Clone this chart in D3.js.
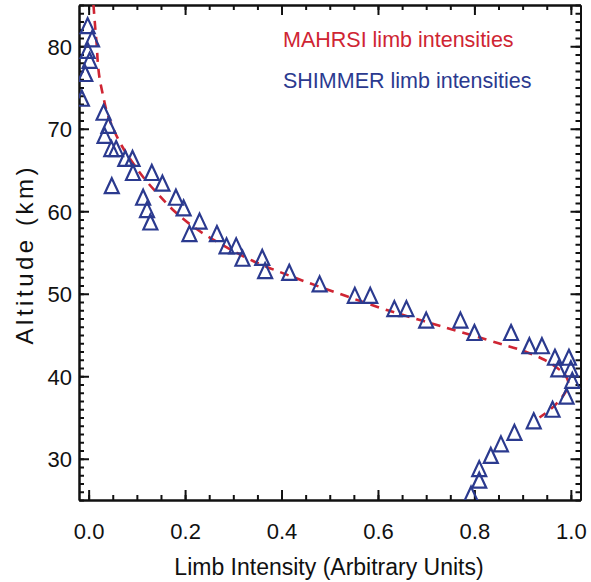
<!DOCTYPE html>
<html>
<head>
<meta charset="utf-8">
<script src="https://cdn.jsdelivr.net/npm/d3@7"></script>
<style>
  body { margin: 0; background: #fff; }
  .app text { font-family: "Liberation Sans", Arial, sans-serif; fill: #111; }
  .axis path, .axis line { stroke: #111; }
</style>
</head>
<body>
<div class="app"></div>
<script>
'use strict'

// SHIMMER limb intensities (triangles)
var shimmerIntensity = [
  -0.002, 0.007, -0.002, 0.002, -0.007, -0.014, 0.031, 0.041, 0.033, 0.047,
  0.057, 0.076, 0.091, 0.092, 0.048, 0.131, 0.153, 0.113, 0.121, 0.128,
  0.181, 0.197, 0.230, 0.209, 0.266, 0.286, 0.306, 0.319, 0.360, 0.366,
  0.416, 0.479, 0.552, 0.584, 0.634, 0.659, 0.700, 0.771, 0.800, 0.876,
  0.914, 0.940, 0.967, 0.996, 0.974, 1.000, 1.003, 0.991, 0.962, 0.923,
  0.883, 0.855, 0.834, 0.810, 0.810, 0.793
];
var shimmerAltitude = [
  82.5, 80.9, 79.5, 78.3, 76.7, 73.7, 72.0, 70.4, 69.2, 67.6,
  67.6, 66.4, 66.4, 64.7, 63.1, 64.7, 63.4, 61.7, 60.2, 58.7,
  61.7, 60.4, 58.8, 57.3, 57.3, 55.8, 55.8, 54.3, 54.4, 52.8,
  52.6, 51.2, 49.8, 49.8, 48.2, 48.2, 46.8, 46.8, 45.3, 45.3,
  43.7, 43.7, 42.3, 42.3, 40.9, 40.9, 39.5, 37.6, 36.0, 34.6,
  33.2, 31.8, 30.4, 28.8, 27.4, 25.7
];

// MAHRSI limb intensities (dashed curve)
var mahrsiAltitude = [85, 82, 80, 78, 76, 74, 72, 70, 68, 66, 64, 62, 60, 58, 56, 54, 52, 50, 48, 46, 44, 43, 42, 41, 40, 39, 38, 37, 36, 35];
var mahrsiIntensity = [0.010, 0.014, 0.017, 0.019, 0.023, 0.030, 0.038, 0.051, 0.068, 0.090, 0.115, 0.145, 0.178, 0.220, 0.275, 0.340, 0.425, 0.520, 0.620, 0.735, 0.850, 0.905, 0.945, 0.972, 0.990, 0.995, 0.988, 0.975, 0.958, 0.935];

// tick values
var xTicks = [0.0, 0.2, 0.4, 0.6, 0.8, 1.0];
var yTicks = [30, 40, 50, 60, 70, 80];
var xMinor = d3.range(0, 21).map(function(i) { return i * 0.05; });
var yMinor = d3.range(25, 86);

var legendLabels = ["MAHRSI limb intensities", "SHIMMER limb intensities"];

var redColor = "#cf2533";
var blueColor = "#2b3a8f";

var width = 591, height = 582;
var plot = { left: 79, right: 580.5, top: 5, bottom: 500 };

var x = d3.scaleLinear().domain([-0.02, 1.02]).range([plot.left, plot.right]);
var y = d3.scaleLinear().domain([25, 85]).range([plot.bottom, plot.top]);

var svg = d3.select(".app")
            .append("svg")
            .attr("width", width)
            .attr("height", height);

svg.append("defs").append("clipPath")
   .attr("id", "plot-clip")
   .append("rect")
   .attr("x", plot.left)
   .attr("y", plot.top)
   .attr("width", plot.right - plot.left)
   .attr("height", plot.bottom - plot.top);

// draws one axis group, ticks point inward
function drawAxis(axis, tx, ty) {
  var g = svg.append("g")
             .attr("class", "axis")
             .attr("transform", "translate(" + tx + "," + ty + ")")
             .call(axis);
  g.selectAll("path").attr("stroke-width", 2).attr("fill", "none");
  g.selectAll("line").attr("stroke-width", 2);
  return g;
}

// minor ticks on all four sides
drawAxis(d3.axisBottom(x).tickValues(xMinor).tickSize(-5).tickSizeOuter(0).tickFormat(""), 0, plot.bottom);
drawAxis(d3.axisTop(x).tickValues(xMinor).tickSize(-5).tickSizeOuter(0).tickFormat(""), 0, plot.top);
drawAxis(d3.axisLeft(y).tickValues(yMinor).tickSize(-5).tickSizeOuter(0).tickFormat(""), plot.left, 0);
drawAxis(d3.axisRight(y).tickValues(yMinor).tickSize(-5).tickSizeOuter(0).tickFormat(""), plot.right, 0);

// major ticks with labels
var xAxis = drawAxis(d3.axisBottom(x).tickValues(xTicks).tickSize(-10).tickSizeOuter(0)
                       .tickPadding(23).tickFormat(d3.format(".1f")), 0, plot.bottom);
drawAxis(d3.axisTop(x).tickValues(xTicks).tickSize(-10).tickSizeOuter(0).tickFormat(""), 0, plot.top);
var yAxis = drawAxis(d3.axisLeft(y).tickValues(yTicks).tickSize(-10).tickSizeOuter(0)
                       .tickPadding(7).tickFormat(d3.format("d")), plot.left, 0);
drawAxis(d3.axisRight(y).tickValues(yTicks).tickSize(-10).tickSizeOuter(0).tickFormat(""), plot.right, 0);

xAxis.selectAll("text").attr("font-size", 22).attr("fill", "#111").attr("font-family", null);
yAxis.selectAll("text").attr("font-size", 22).attr("fill", "#111").attr("font-family", null)
     .attr("dy", "0.36em");

// MAHRSI dashed curve
var mahrsiData = mahrsiAltitude.map(function(a, i) { return { x: mahrsiIntensity[i], y: a }; });
var line = d3.line()
             .curve(d3.curveCatmullRom)
             .x(function(d) { return x(d.x); })
             .y(function(d) { return y(d.y); });

var marks = svg.append("g").attr("clip-path", "url(#plot-clip)");

marks.append("path")
     .attr("d", line(mahrsiData))
     .attr("fill", "none")
     .attr("stroke", redColor)
     .attr("stroke-width", 2.6)
     .attr("stroke-dasharray", "9,7");

// SHIMMER triangles
var shimmerData = shimmerAltitude.map(function(a, i) { return { x: shimmerIntensity[i], y: a }; });
var tw = 7, th = 7.5;
marks.selectAll(".tri")
     .data(shimmerData)
     .enter().append("path")
     .attr("class", "tri")
     .attr("transform", function(d) { return "translate(" + x(d.x) + "," + y(d.y) + ")"; })
     .attr("d", "M0," + (-th) + "L" + tw + "," + th + "L" + (-tw) + "," + th + "Z")
     .attr("fill", "none")
     .attr("stroke", blueColor)
     .attr("stroke-width", 2.2)
     .attr("stroke-linejoin", "miter");

// legend text
svg.append("text")
   .attr("x", 283).attr("y", 47)
   .attr("font-size", 21.5)
   .style("fill", redColor)
   .text(legendLabels[0]);

svg.append("text")
   .attr("x", 283).attr("y", 88)
   .attr("font-size", 21.5)
   .style("fill", blueColor)
   .text(legendLabels[1]);

// axis titles
svg.append("text")
   .attr("x", 329).attr("y", 575)
   .attr("text-anchor", "middle")
   .attr("font-size", 23)
   .text("Limb Intensity (Arbitrary Units)");

svg.append("text")
   .attr("transform", "translate(33,256) rotate(-90)")
   .attr("text-anchor", "middle")
   .attr("font-size", 24)
   .attr("textLength", 177)
   .attr("lengthAdjust", "spacing")
   .text("Altitude (km)");
</script>
</body>
</html>
